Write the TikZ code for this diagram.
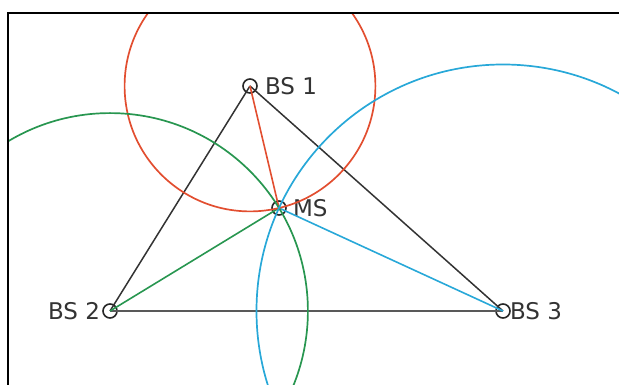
\documentclass[tikz,border=0pt]{standalone}
\usepackage{fontspec}
\usepackage{xcolor}
\newfontfamily\lblfont{DejaVu Sans}
\definecolor{rangered}{RGB}{226,78,48}
\definecolor{rangegreen}{RGB}{40,150,80}
\definecolor{rangeblue}{RGB}{40,168,216}

\tikzset{
  station/.style={circle, draw=black!85, line width=1.6pt, minimum size=14pt, inner sep=0pt},
  lbl/.style={font=\lblfont\fontsize{23}{27}\selectfont, text=black!80, inner sep=0pt},
}

\begin{document}
\begin{tikzpicture}[x=1pt, y=1pt]
  \useasboundingbox (0,0) rectangle (619,385);
  % base stations and mobile
  \node[station, label={[lbl, xshift=7pt]right:BS 1}] (bs1) at (250,299) {};
  \node[station, label={[lbl, xshift=-2pt]left:BS 2}] (bs2) at (110,74) {};
  \node[station, label={[lbl, xshift=-1pt]right:BS 3}] (bs3) at (503,74) {};
  \node[station, label={[lbl, xshift=6pt]right:MS}] (ms) at (279,177) {};
  % triangle
  \draw[black!80, line width=1.5pt] (bs1.center) -- (bs2.center);
  \draw[black!80, line width=1.5pt] (bs1.center) -- (bs3.center);
  \draw[black!65, line width=1.9pt] (bs2.center) -- (bs3.center);
  % ranges to the mobile
  \draw[rangered, line width=1.6pt] (bs1.center) -- (ms.center);
  \draw[rangegreen, line width=1.6pt] (bs2.center) -- (ms.center);
  \draw[rangeblue, line width=1.6pt] (bs3.center) -- (ms.center);
  % range circles
  \begin{scope}
    \clip (8,0) rectangle (619,372);
    \draw[rangered, line width=1.7pt] (bs1.center) circle (125.4pt);
    \draw[rangegreen, line width=1.7pt] (bs2.center) circle (197.9pt);
    \draw[rangeblue, line width=1.7pt] (bs3.center) circle (246.5pt);
  \end{scope}
  % frame
  \draw[black, line width=1.8pt] (8,0) -- (8,372) -- (619,372);
\end{tikzpicture}
\end{document}
